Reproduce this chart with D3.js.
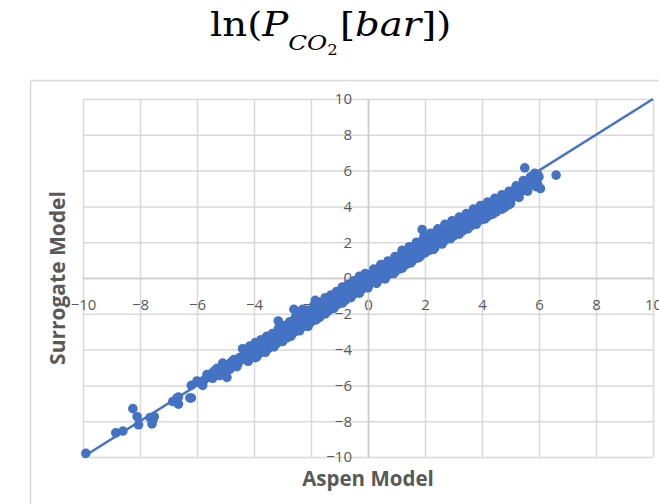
<!DOCTYPE html>
<html>
<head>
<meta charset="utf-8">
<script src="https://cdn.jsdelivr.net/npm/d3@7"></script>
<style>
  body { margin: 0; background: #fff; }
  svg { display: block; }
</style>
</head>
<body>
<script>
// Aspen model value (x) vs surrogate model value (y), ln(P_CO2 [bar])
var aspen = [
  -9.9, -8.85, -8.6, -8.25, -8.1, -8.05, -7.65, -7.58, -7.55, -7.5,
  -6.85, -6.65, -6.65, -6.7, -6.2, -6.25, -6.2, -6.0,
  -5.9, -5.75, -5.6, -5.5, -5.45, -5.3, -5.25, -5.1, -5.05, -4.95, -4.9, -4.8, -4.75, -4.65, -4.55, -4.5,
  -5.8, -5.65, -5.4, -5.2, -5.0, -4.85, -4.7, -4.6,
  -4.4, -4.4, -4.3, -4.25, -4.2, -4.1, -4.05, -4.0, -3.95, -3.9, -3.85, -3.8, -3.75, -3.7, -3.65, -3.6,
  -3.55, -3.5, -3.45, -3.4, -3.35, -3.3, -3.25, -3.2, -3.15, -3.1, -3.05, -3.0, -2.95, -2.9, -2.85, -2.8,
  -2.75, -2.7, -2.65, -2.6, -2.6, -2.55, -2.5, -2.45, -2.4, -2.35, -2.3, -2.3, -2.25, -2.2, -2.15, -2.1,
  -2.05, -2.0,
  -4.35, -4.15, -3.95, -3.75, -3.55, -3.35, -3.15, -2.95, -2.75, -2.55, -2.35, -2.15,
  -4.2, -3.9, -3.6, -3.3, -3.0, -2.7, -2.4, -2.1,
  -1.95, -1.9, -1.85, -1.85, -1.8, -1.75, -1.7, -1.65, -1.6, -1.55, -1.5, -1.45, -1.4, -1.35, -1.3, -1.25,
  -1.2, -1.15, -1.1, -1.05, -1.0, -0.95, -0.9, -0.85, -0.8, -0.75, -0.7, -0.65, -0.6, -0.55, -0.5, -0.45,
  -0.4, -0.35, -0.3, -0.25, -0.2, -0.15, -0.1, -0.05, 0.0, 0.0,
  -1.9, -1.7, -1.5, -1.3, -1.1, -0.9, -0.7, -0.5, -0.3, -0.1,
  -1.8, -1.5, -1.2, -0.9, -0.6, -0.3, 0.0,
  0.05, 0.1, 0.15, 0.2, 0.25, 0.3, 0.35, 0.4, 0.45, 0.5, 0.55, 0.6, 0.65, 0.7, 0.75, 0.8, 0.85, 0.9, 0.95,
  1.0, 1.05, 1.1, 1.15, 1.2, 1.2, 1.25, 1.3, 1.35, 1.4, 1.45, 1.5, 1.55, 1.6, 1.65, 1.7, 1.75, 1.8, 1.85,
  1.9, 1.9, 1.95, 2.0,
  0.2, 0.45, 0.7, 0.95, 1.2, 1.45, 1.7, 1.95,
  0.3, 0.6, 0.9, 1.2, 1.5, 1.8,
  2.05, 2.1, 2.15, 2.2, 2.25, 2.3, 2.35, 2.4, 2.45, 2.5, 2.55, 2.6, 2.65, 2.7, 2.75, 2.8, 2.85, 2.9, 2.95,
  3.0, 3.05, 3.1, 3.15, 3.2, 3.25, 3.3, 3.35, 3.4, 3.45, 3.5, 3.55, 3.6, 3.65, 3.7, 3.75, 3.8, 3.85, 3.9,
  3.95, 4.0,
  2.2, 2.45, 2.7, 2.95, 3.2, 3.45, 3.7, 3.95,
  2.3, 2.6, 2.9, 3.2, 3.5, 3.8,
  4.05, 4.1, 4.15, 4.2, 4.25, 4.3, 4.35, 4.4, 4.45, 4.5, 4.55, 4.6, 4.65, 4.7, 4.75, 4.8, 4.85, 4.9, 4.95,
  5.0, 5.05, 5.1, 5.15, 5.2, 5.25, 5.3, 5.35, 5.4, 5.45, 5.5, 5.5, 5.55, 5.6, 5.65, 5.7, 5.75, 5.8, 5.85,
  5.9, 5.95, 6.0, 6.05, 6.6,
  4.2, 4.45, 4.7, 4.95, 5.2, 5.45, 5.7, 5.95,
  4.1, 4.4, 4.7, 5.0, 5.3, 5.6, 5.9
];
var surrogate = [
  -9.8, -8.65, -8.55, -7.3, -7.75, -8.2, -7.8, -8.15, -7.95, -7.75,
  -6.9, -6.65, -7.05, -6.7, -6.7, -6.7, -6.0, -5.75,
  -5.85, -5.7, -5.55, -5.35, -5.6, -5.05, -5.3, -4.75, -5.15, -5.55, -4.85, -4.7, -4.95, -4.6, -4.75, -4.45,
  -6.0, -5.4, -5.2, -5.45, -4.9, -5.1, -4.55, -4.95,
  -3.95, -4.5, -4.25, -4.6, -4.05, -4.3, -3.85, -4.1, -4.45, -3.65, -3.95, -4.2, -3.6, -3.85, -4.05, -3.5,
  -3.75, -3.95, -3.3, -3.6, -3.8, -3.2, -3.45, -3.65, -2.4, -3.0, -3.3, -3.5, -2.85, -3.1, -3.35, -2.65,
  -2.95, -3.15, -2.5, -1.75, -2.8, -3.0, -2.35, -2.6, -2.85, -2.2, -1.75, -2.45, -2.7, -2.05, -2.6, -2.3,
  -1.9, -2.45,
  -4.05, -3.8, -3.6, -3.45, -3.25, -3.1, -2.85, -2.65, -2.45, -2.2, -2.0, -1.8,
  -4.65, -4.4, -4.15, -3.85, -3.55, -3.25, -2.95, -2.7,
  -1.75, -2.1, -1.25, -2.35, -1.6, -1.95, -2.2, -1.45, -1.75, -2.0, -1.3, -1.55, -1.85, -1.15, -1.4, -1.7,
  -1.0, -1.25, -1.5, -0.85, -1.4, -1.1, -0.75, -1.0, -1.25, -0.6, -0.85, -1.05, -0.45, -0.7, -0.9, -0.3,
  -0.55, -0.75, -0.15, -0.4, -0.6, 0.0, -0.25, -0.45, 0.1, -0.15,
  -1.55, -1.35, -1.1, -0.95, -0.75, -0.5, -0.35, -0.15, 0.1, 0.25,
  -2.3, -2.0, -1.7, -1.4, -1.1, -0.85, -0.55,
  -0.35, 0.2, -0.05, -0.2, 0.3, 0.05, -0.15, 0.45, 0.2, 0.0, 0.55, 0.3, 0.1, 0.7, 0.45, 0.25, 0.85, 0.55, 0.35,
  1.0, 0.7, 0.5, 1.15, 1.55, 0.85, 0.65, 1.3, 1.0, 0.8, 1.5, 1.2, 0.95, 1.6, 1.35, 1.1, 1.8, 1.5, 1.25,
  2.7, 1.9, 1.65, 1.4,
  0.5, 0.75, 0.95, 1.2, 1.45, 1.75, 2.0, 2.25,
  -0.3, -0.05, 0.25, 0.55, 0.85, 1.15,
  2.05, 1.8, 1.55, 2.2, 1.95, 2.4, 1.7, 2.1, 2.5, 2.25, 1.95, 2.6, 2.35, 2.1, 2.75, 2.5, 2.25, 2.85, 2.6,
  2.35, 3.0, 2.75, 2.5, 3.1, 2.85, 2.6, 3.25, 3.0, 2.75, 3.4, 3.15, 2.9, 3.55, 3.3, 3.05, 3.65, 3.4, 3.2,
  3.8, 3.55,
  2.5, 2.75, 3.0, 3.2, 3.4, 3.6, 3.85, 4.05,
  1.6, 1.9, 2.2, 2.45, 2.75, 3.0,
  3.3, 3.9, 3.65, 3.45, 4.1, 3.8, 3.55, 4.2, 3.95, 3.7, 4.35, 4.1, 3.85, 4.45, 4.2, 3.95, 4.6, 4.35, 4.1,
  4.7, 4.45, 4.55, 4.85, 4.6, 5.0, 4.75, 5.1, 4.85, 5.25, 6.15, 5.0, 5.3, 5.05, 5.45, 5.2, 5.55, 5.3, 5.85,
  5.5, 5.25, 5.65, 5.0, 5.75,
  4.25, 4.45, 4.65, 4.85, 5.15, 5.45, 5.65, 5.8,
  3.3, 3.6, 3.85, 4.15, 4.5, 4.85, 5.1
];
var ticks = [-10, -8, -6, -4, -2, 0, 2, 4, 6, 8, 10];

var W = 659, H = 504;
var blue = "#4472C4", grid = "#d9d9d9", text = "#595959";
var font = "'Open Sans', Lato, sans-serif";

var svg = d3.select("body").append("svg")
    .attr("width", W)
    .attr("height", H);

// chart area border (runs off the picture on the right and bottom)
svg.append("rect")
    .attr("x", 30.5).attr("y", 80.5)
    .attr("width", 700).attr("height", 500)
    .attr("fill", "#fff")
    .attr("stroke", grid)
    .attr("stroke-width", 1.5);

var x = d3.scaleLinear().domain([-10, 10]).range([83, 653]);
var y = d3.scaleLinear().domain([-10, 10]).range([457, 99]);

// gridlines
svg.append("g")
    .attr("transform", "translate(0," + y(-10) + ")")
    .call(d3.axisBottom(x).tickValues(ticks).tickSize(-(y(-10) - y(10))).tickFormat(""))
    .call(function(g) {
      g.select(".domain").remove();
      g.selectAll("line").attr("stroke", grid).attr("stroke-width", 1.5);
    });
svg.append("g")
    .attr("transform", "translate(" + x(-10) + ",0)")
    .call(d3.axisLeft(y).tickValues(ticks).tickSize(-(x(10) - x(-10))).tickFormat(""))
    .call(function(g) {
      g.select(".domain").remove();
      g.selectAll("line").attr("stroke", grid).attr("stroke-width", 1.5);
    });

// axes crossing at zero
var xAxis = svg.append("g")
    .attr("transform", "translate(0," + y(0) + ")")
    .call(d3.axisBottom(x).tickValues(ticks).tickSize(0).tickPadding(21));
var yAxis = svg.append("g")
    .attr("transform", "translate(" + x(0) + ",0)")
    .call(d3.axisLeft(y).tickValues(ticks).tickSize(0).tickPadding(16));
[xAxis, yAxis].forEach(function(g) {
  g.select(".domain").attr("stroke", "#cccccc").attr("stroke-width", 1.5);
  g.selectAll("text")
      .attr("fill", text)
      .style("font-family", font)
      .style("font-size", "15px");
});

// y = x reference line
svg.append("line")
    .attr("x1", x(-10)).attr("y1", y(-10))
    .attr("x2", x(10)).attr("y2", y(10))
    .attr("stroke", blue)
    .attr("stroke-width", 2.5);

// points
svg.append("g").selectAll("circle")
    .data(d3.range(aspen.length))
    .join("circle")
    .attr("cx", function(i) { return x(aspen[i]); })
    .attr("cy", function(i) { return y(surrogate[i]); })
    .attr("r", 4.8)
    .attr("fill", blue);

// axis titles
svg.append("text")
    .attr("x", x(0)).attr("y", 486)
    .attr("text-anchor", "middle")
    .attr("fill", text)
    .style("font-family", font)
    .style("font-weight", "bold")
    .style("font-size", "20.5px")
    .text("Aspen Model");
svg.append("text")
    .attr("transform", "translate(65,278) rotate(-90)")
    .attr("text-anchor", "middle")
    .attr("fill", text)
    .style("font-family", font)
    .style("font-weight", "bold")
    .style("font-size", "21px")
    .text("Surrogate Model");

// title ln(P_CO2[bar])
var title = svg.append("text")
    .attr("transform", "translate(210,36) scale(1.17,1)")
    .style("font-family", "'DejaVu Serif', 'Liberation Serif', serif")
    .style("font-size", "33px")
    .attr("fill", "#000");
title.append("tspan").text("ln(");
title.append("tspan").style("font-style", "italic").text("P");
title.append("tspan").attr("dy", 14).style("font-style", "italic").style("font-size", "21px").text("CO");
title.append("tspan").attr("dy", 5).style("font-size", "14px").text("2");
title.append("tspan").attr("dy", -19).attr("dx", 2).text("[");
title.append("tspan").style("font-style", "italic").text("bar");
title.append("tspan").text("])");
</script>
</body>
</html>
